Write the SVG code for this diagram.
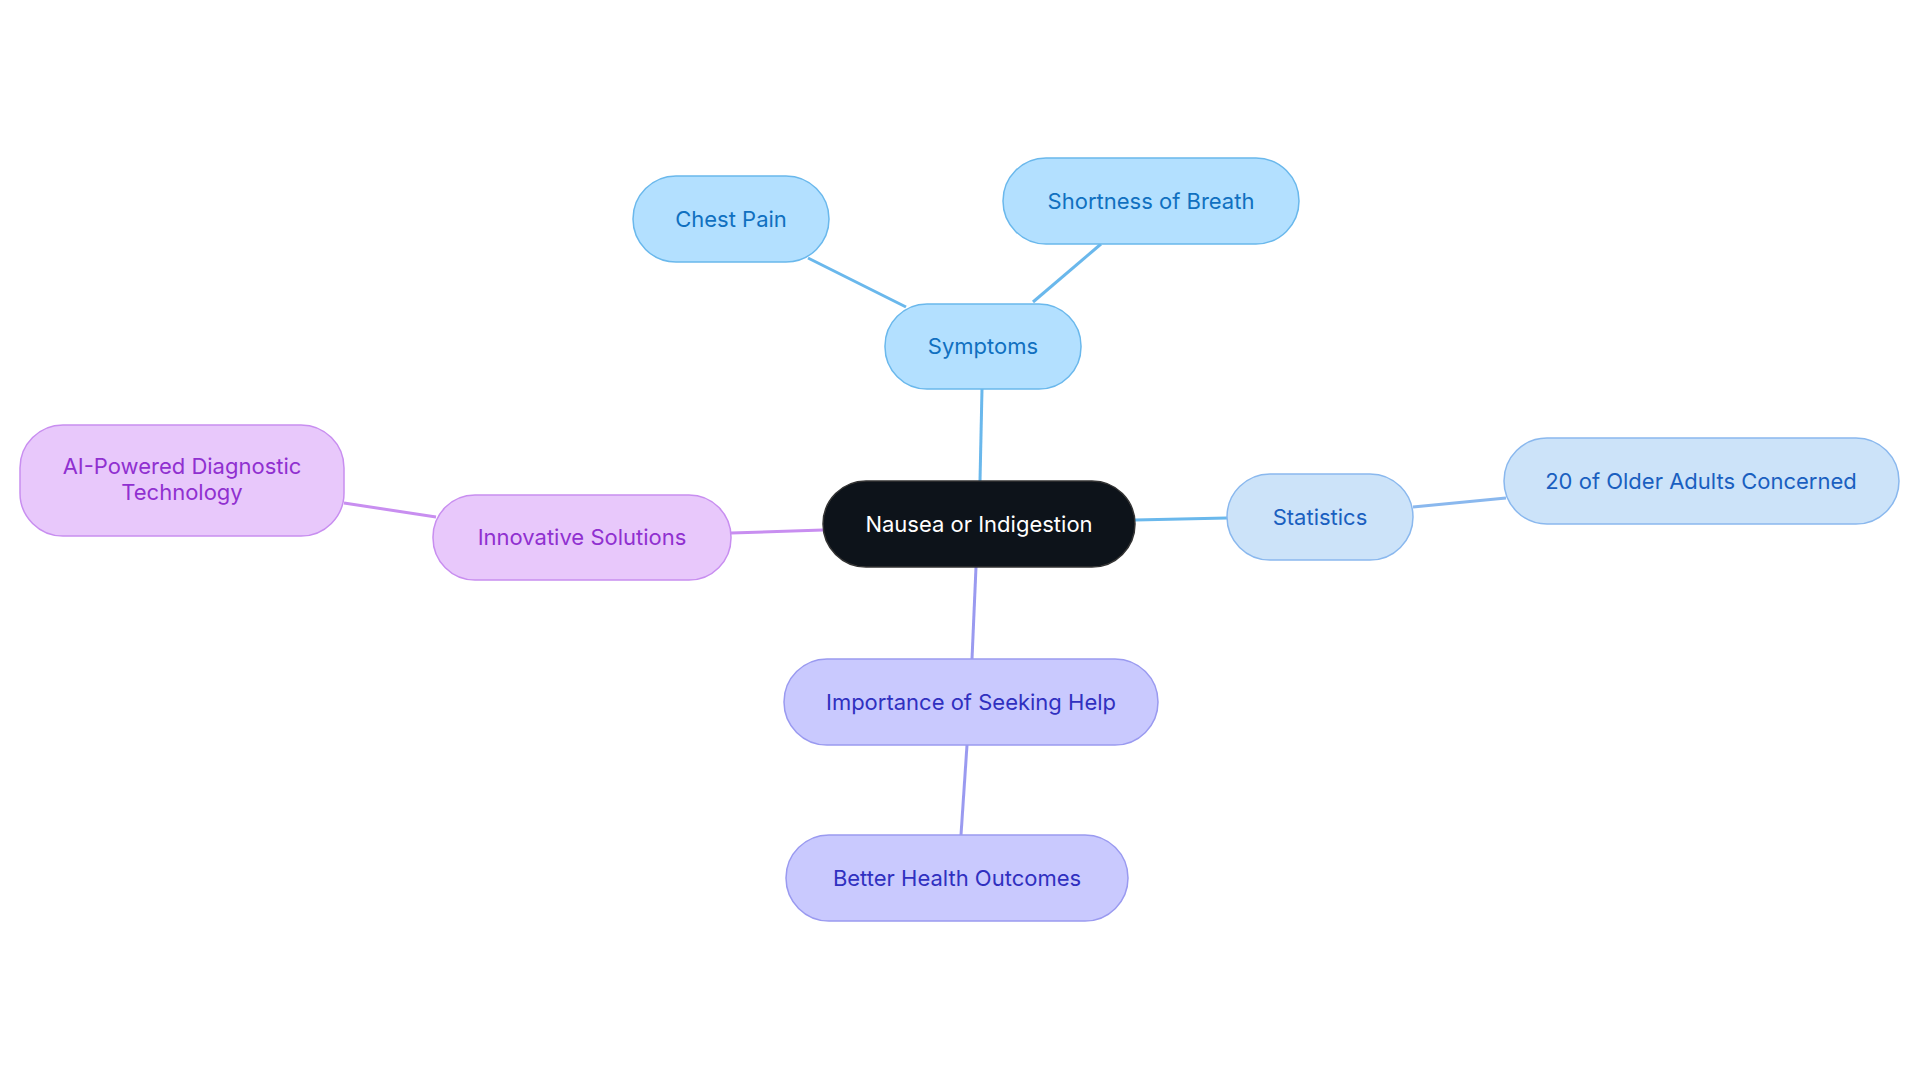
<svg xmlns="http://www.w3.org/2000/svg" width="1920" height="1083" viewBox="0 0 1920 1083">
<style>
text{font-family:Inter,"Noto Sans","Liberation Sans",sans-serif;font-size:22px;text-anchor:middle;dominant-baseline:central}
.b rect{fill:#b3e0ff;stroke:#6ab8ec;stroke-width:1.5}.b text{fill:#1070c0}
.s rect{fill:#cce3f9;stroke:#8ab8ee;stroke-width:1.5}.s text{fill:#1a5fc0}
.p rect{fill:#e8c8fb;stroke:#c88ef0;stroke-width:1.5}.p text{fill:#9030d0}
.v rect{fill:#c9c9fe;stroke:#9a9af0;stroke-width:1.5}.v text{fill:#3030c0}
line{stroke-width:3;fill:none}
</style>
<rect width="1920" height="1083" fill="#fff"/>
<g id="connectors">
<line x1="980" y1="481" x2="982" y2="389" stroke="#6ab8ec"/>
<line x1="906" y1="307" x2="808" y2="258" stroke="#6ab8ec"/>
<line x1="1033" y1="302" x2="1101" y2="244" stroke="#6ab8ec"/>
<line x1="1135" y1="520" x2="1227" y2="518" stroke="#6ab8ec"/>
<line x1="1413" y1="507" x2="1506" y2="498" stroke="#8ab8ee"/>
<line x1="823" y1="530" x2="731" y2="533" stroke="#c88ef0"/>
<line x1="436" y1="517" x2="344" y2="503" stroke="#c88ef0"/>
<line x1="976" y1="567" x2="972" y2="659" stroke="#9a9af0"/>
<line x1="967" y1="745" x2="961" y2="835" stroke="#9a9af0"/>
</g>
<g id="center"><rect x="823" y="481" width="312" height="86" rx="43" fill="#0d131a" stroke="#333" stroke-width="1.5"/><text x="979" y="524" fill="#fff">Nausea or Indigestion</text></g>
<g id="symptoms" class="b"><rect x="885" y="304" width="196" height="85" rx="42"/><text x="983" y="346">Symptoms</text></g>
<g id="chest" class="b"><rect x="633" y="176" width="196" height="86" rx="43"/><text x="731" y="219">Chest Pain</text></g>
<g id="breath" class="b"><rect x="1003" y="158" width="296" height="86" rx="43"/><text x="1151" y="201">Shortness of Breath</text></g>
<g id="stats" class="s"><rect x="1227" y="474" width="186" height="86" rx="43"/><text x="1320" y="517">Statistics</text></g>
<g id="older" class="s"><rect x="1504" y="438" width="395" height="86" rx="43"/><text x="1701" y="481">20 of Older Adults Concerned</text></g>
<g id="innov" class="p"><rect x="433" y="495" width="298" height="85" rx="42"/><text x="582" y="537">Innovative Solutions</text></g>
<g id="ai" class="p"><rect x="20" y="425" width="324" height="111" rx="43"/><text x="182" y="466">AI-Powered Diagnostic</text><text x="182" y="492">Technology</text></g>
<g id="importance" class="v"><rect x="784" y="659" width="374" height="86" rx="43"/><text x="971" y="702">Importance of Seeking Help</text></g>
<g id="better" class="v"><rect x="786" y="835" width="342" height="86" rx="43"/><text x="957" y="878">Better Health Outcomes</text></g>
</svg>
